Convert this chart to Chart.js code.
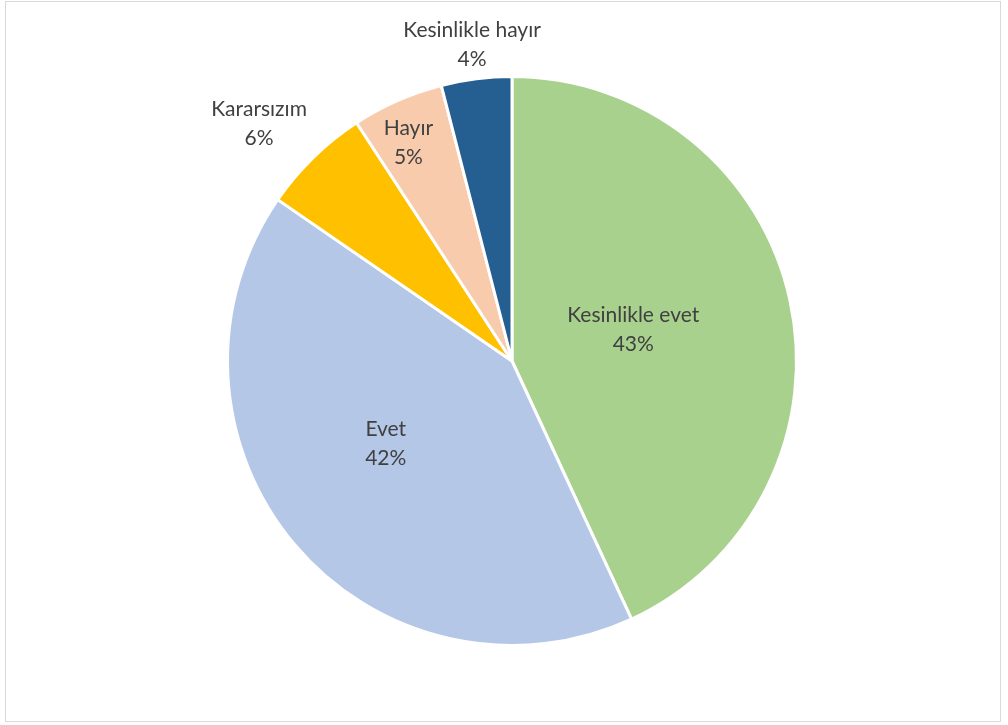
<!DOCTYPE html>
<html>
<head>
<meta charset="utf-8">
<script src="https://cdn.jsdelivr.net/npm/chart.js@4"></script>
<style>
  html, body { margin: 0; padding: 0; background: #fff; }
  #frame {
    position: absolute; left: 5px; top: 1px; width: 996px; height: 721px;
    border: 1px solid #d9d9d9; box-sizing: border-box;
  }
  #pie { position: absolute; left: 0; top: 0; }
</style>
</head>
<body>
<div id="frame"></div>
<canvas id="pie" width="1008" height="725"></canvas>
<script>
const categories = ["Kesinlikle evet", "Evet", "Kararsızım", "Hayır", "Kesinlikle hayır"];
const shares = [43.1, 41.5, 6.2, 5.2, 4.0];
const sliceColors = ["#a9d18e", "#b4c7e7", "#ffc000", "#f8cbad", "#255e91"];
// label distance from the centre (part of the radius) and turn from the slice middle (degrees)
const labelRadius = [0.44, 0.53, 1.22, 0.85, 1.12];
const labelTurn = [-2, 7, -2.5, -1.6, 0];

const labelPlugin = {
    id: "sliceLabels",
    afterDatasetsDraw(chart) {
        const ctx = chart.ctx;
        const meta = chart.getDatasetMeta(0);
        ctx.save();
        ctx.font = "21px Lato, 'Open Sans', sans-serif";
        ctx.fillStyle = "#404040";
        ctx.textAlign = "center";
        ctx.textBaseline = "middle";
        meta.data.forEach((arc, i) => {
            const p = arc.getProps(["x", "y", "startAngle", "endAngle", "outerRadius"], true);
            const mid = (p.startAngle + p.endAngle) / 2 + labelTurn[i] * Math.PI / 180;
            const r = p.outerRadius * labelRadius[i];
            const x = p.x + Math.cos(mid) * r;
            const y = p.y + Math.sin(mid) * r;
            ctx.fillText(categories[i], x, y - 14.5);
            ctx.fillText(Math.round(shares[i]) + "%", x, y + 14.5);
        });
        ctx.restore();
    },
};

new Chart(document.getElementById("pie").getContext("2d"), {
    type: "pie",
    data: {
        labels: categories,
        datasets: [{
            data: shares,
            backgroundColor: sliceColors,
            borderColor: "#ffffff",
            borderWidth: 3,
        }],
    },
    options: {
        responsive: false,
        animation: false,
        devicePixelRatio: 1,
        layout: { padding: { top: 75, bottom: 78, left: 16, right: 0 } },
        plugins: {
            legend: { display: false },
            tooltip: { enabled: false },
        },
    },
    plugins: [labelPlugin],
});
</script>
</body>
</html>
